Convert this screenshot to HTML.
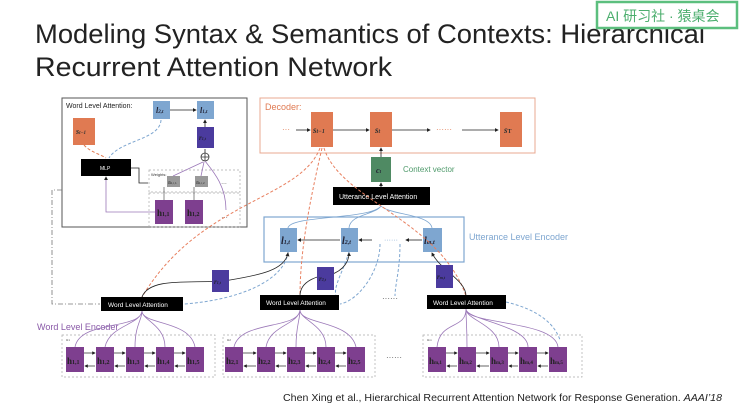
<!DOCTYPE html>
<html><head><meta charset="utf-8"><style>
html,body{margin:0;padding:0;background:#fff;}
svg{display:block;}
text{font-family:"Liberation Sans","Noto Sans CJK SC",sans-serif;}
.m{font-family:"Liberation Serif",serif;font-style:italic;font-weight:bold;}
.b{font-family:"Liberation Serif",serif;font-weight:bold;}
</style></head><body>
<svg width="740" height="405" viewBox="0 0 740 405" xmlns="http://www.w3.org/2000/svg">
<defs>
<marker id="a" markerWidth="5" markerHeight="5" refX="4" refY="2.5" orient="auto"><path d="M0,0L5,2.5L0,5z" fill="#222"/></marker>
</defs>
<!-- title -->
<text x="35" y="43" font-size="27" fill="#222" textLength="670" lengthAdjust="spacingAndGlyphs">Modeling Syntax &amp; Semantics of Contexts: Hierarchical</text>
<text x="35" y="76" font-size="27" fill="#222" textLength="357" lengthAdjust="spacingAndGlyphs">Recurrent Attention Network</text>
<!-- watermark -->
<rect x="597" y="2" width="140" height="26" fill="#fff" stroke="#5cbf7e" stroke-width="2.5"/>
<text x="606" y="21" font-size="14" fill="#4cae6e">AI 研习社 · 猿桌会</text>

<!-- inset -->
<rect x="62" y="98" width="185" height="129" fill="none" stroke="#555" stroke-width="1"/>
<text x="66" y="108" font-size="7" fill="#222">Word Level Attention:</text>
<rect x="153" y="101" width="17" height="18" fill="#7ea6d0"/><text x="156" y="113" font-size="8" class="m" fill="#223">l<tspan font-size="5">2,t</tspan></text>
<rect x="197" y="101" width="17" height="18" fill="#7ea6d0"/><text x="200" y="113" font-size="8" class="m" fill="#223">l<tspan font-size="5">1,t</tspan></text>
<line x1="170" y1="110" x2="196" y2="110" stroke="#222" stroke-width="0.8" marker-end="url(#a)"/>
<rect x="73" y="118" width="22" height="27" fill="#e07a52"/><text x="76" y="134" font-size="8" class="m" fill="#333">s<tspan font-size="5">t−1</tspan></text>
<rect x="197" y="127" width="17" height="21" fill="#4b3b9e"/><text x="199" y="140" font-size="7" class="m" fill="#223">r<tspan font-size="4">1,t</tspan></text>
<line x1="205" y1="127" x2="205" y2="120" stroke="#222" stroke-width="0.8" marker-end="url(#a)"/>
<circle cx="205" cy="157" r="4" fill="none" stroke="#333" stroke-width="0.8"/><path d="M201,157h8M205,153v8" stroke="#333" stroke-width="0.8"/>
<line x1="205" y1="153" x2="205" y2="149" stroke="#222" stroke-width="0.8"/>
<rect x="81" y="159" width="50" height="17" fill="#000"/><text x="100" y="170" font-size="5" fill="#fff">MLP</text>
<path d="M161,120 C160,140 120,140 109,158" stroke="#7ea6d0" stroke-width="1" stroke-dasharray="3,2" fill="none"/>
<path d="M84,145 C90,152 100,154 106,158" stroke="#e07a52" stroke-width="1" stroke-dasharray="3,2" fill="none"/>
<path d="M131,168 h8 v15 h9" stroke="#222" stroke-width="0.8" fill="none"/>
<rect x="149" y="170" width="91" height="22" fill="none" stroke="#aaa" stroke-width="0.7" stroke-dasharray="2,2"/>
<text x="151" y="176" font-size="4" fill="#333">Weights:</text>
<rect x="167" y="176" width="13" height="11" fill="#999"/><text x="168" y="184" font-size="5" fill="#333">a<tspan font-size="3">1,t,1</tspan></text>
<rect x="195" y="176" width="13" height="11" fill="#999"/><text x="196" y="184" font-size="5" fill="#333">a<tspan font-size="3">1,t,2</tspan></text>
<text x="221" y="184" font-size="6" fill="#555">…</text>
<rect x="149" y="193" width="91" height="34" fill="none" stroke="#aaa" stroke-width="0.7" stroke-dasharray="2,2"/>
<rect x="155" y="200" width="18" height="24" fill="#7e3f8f"/><text x="157" y="216" font-size="9" class="b" fill="#222">h<tspan font-size="6">1,1</tspan></text>
<rect x="185" y="200" width="18" height="24" fill="#7e3f8f"/><text x="187" y="216" font-size="9" class="b" fill="#222">h<tspan font-size="6">1,2</tspan></text>
<text x="221" y="218" font-size="7" fill="#555">…</text>
<path d="M173,176 L203,162 M201,176 L204,162 M205,161 C212,170 226,185 226,210" stroke="#9b78b8" stroke-width="0.8" fill="none"/>
<path d="M155,212 H106 V177" stroke="#9b78b8" stroke-width="0.8" fill="none" marker-end="url(#a)"/>
<path d="M164,200 v-13 M194,200 v-13" stroke="#555" stroke-width="0.7"/>

<!-- decoder -->
<rect x="260" y="98" width="275" height="55" fill="none" stroke="#e8a890" stroke-width="1"/>
<text x="265" y="110" font-size="9" fill="#e07a52">Decoder:</text>
<text x="282" y="132" font-size="8" fill="#e07a52">···</text>
<line x1="296" y1="130" x2="310" y2="130" stroke="#222" stroke-width="0.8" marker-end="url(#a)"/>
<rect x="311" y="112" width="22" height="35" fill="#e07a52"/><text x="313" y="133" font-size="9" class="m" fill="#333">s<tspan font-size="6">t−1</tspan></text>
<line x1="333" y1="130" x2="369" y2="130" stroke="#222" stroke-width="0.8" marker-end="url(#a)"/>
<rect x="370" y="112" width="22" height="35" fill="#e07a52"/><text x="375" y="133" font-size="9" class="m" fill="#333">s<tspan font-size="6">t</tspan></text>
<line x1="392" y1="130" x2="430" y2="130" stroke="#222" stroke-width="0.8" marker-end="url(#a)"/>
<text x="436" y="132" font-size="8" fill="#e07a52">······</text>
<line x1="462" y1="130" x2="498" y2="130" stroke="#222" stroke-width="0.8" marker-end="url(#a)"/>
<rect x="500" y="112" width="22" height="35" fill="#e07a52"/><text x="504" y="133" font-size="9" class="m" fill="#333">s<tspan font-size="6" font-style="normal">T</tspan></text>
<rect x="371" y="157" width="20" height="25" fill="#4f8a63"/><text x="376" y="173" font-size="8" class="m" fill="#223">c<tspan font-size="5">t</tspan></text>
<line x1="381" y1="157" x2="381" y2="148" stroke="#222" stroke-width="0.8" marker-end="url(#a)"/>
<text x="403" y="172" font-size="8" fill="#4f9a6b">Context vector</text>
<rect x="333" y="187" width="97" height="18" fill="#000"/><text x="339" y="199" font-size="7" fill="#fff">Utterance  Level Attention</text>
<line x1="381" y1="187" x2="381" y2="183" stroke="#222" stroke-width="0.8" marker-end="url(#a)"/>

<!-- utterance encoder -->
<rect x="264" y="217" width="200" height="45" fill="none" stroke="#7ea6d0" stroke-width="1.2"/>
<text x="469" y="240" font-size="9" fill="#7ea6d0">Utterance Level Encoder</text>
<path d="M288,228 C290,215 370,220 381,206 M349,228 C350,214 375,215 381,206 M432,228 C430,214 390,215 381,206" stroke="#7ea6d0" stroke-width="0.8" fill="none"/>
<rect x="280" y="228" width="17" height="24" fill="#7ea6d0"/><text x="281" y="244" font-size="10" class="m" fill="#223">l<tspan font-size="6">1,t</tspan></text>
<rect x="341" y="228" width="17" height="24" fill="#7ea6d0"/><text x="342" y="244" font-size="10" class="m" fill="#223">l<tspan font-size="6">2,t</tspan></text>
<rect x="423" y="228" width="19" height="24" fill="#7ea6d0"/><text x="424" y="244" font-size="10" class="m" fill="#223">l<tspan font-size="6">m,t</tspan></text>
<line x1="340" y1="240" x2="298" y2="240" stroke="#222" stroke-width="0.8" marker-end="url(#a)"/>
<line x1="372" y1="240" x2="359" y2="240" stroke="#222" stroke-width="0.8" marker-end="url(#a)"/>
<text x="384" y="242" font-size="7" fill="#7ea6d0">······</text>
<line x1="422" y1="240" x2="406" y2="240" stroke="#222" stroke-width="0.8" marker-end="url(#a)"/>

<!-- dashed orange/blue curves -->
<g fill="none" stroke-width="1" stroke-dasharray="3,2">
<path d="M320,148 C300,200 200,200 142,297" stroke="#e88060"/>
<path d="M322,148 C310,200 300,250 300,296" stroke="#e88060"/>
<path d="M324,148 C340,200 440,220 466,296" stroke="#e88060"/>
<path d="M288,252 C285,280 240,300 184,304" stroke="#7ea6d0"/>
<path d="M349,252 C340,280 330,290 339,303" stroke="#7ea6d0"/>
<path d="M380,244 C380,270 360,300 340,304" stroke="#7ea6d0"/>
<path d="M400,244 C400,270 395,285 395,296" stroke="#7ea6d0"/>
<path d="M506,302 C540,310 555,325 560,340" stroke="#7ea6d0"/>
</g>
<path d="M62,190 H52 V304 H100" fill="none" stroke="#777" stroke-width="0.8" stroke-dasharray="5,2,1,2"/>
<!-- r boxes -->
<path d="M142,297 C150,275 200,285 230,280 C260,275 285,270 288,253" stroke="#222" stroke-width="0.8" fill="none" marker-end="url(#a)"/>
<path d="M300,296 C300,280 320,275 330,275 C345,270 349,260 349,253" stroke="#222" stroke-width="0.8" fill="none" marker-end="url(#a)"/>
<path d="M466,296 C466,280 440,270 432,253" stroke="#222" stroke-width="0.8" fill="none" marker-end="url(#a)"/>
<rect x="212" y="270" width="17" height="22" fill="#4b3b9e"/><text x="214" y="284" font-size="7" class="m" fill="#223">r<tspan font-size="4">1,t</tspan></text>
<rect x="317" y="267" width="17" height="23" fill="#4b3b9e"/><text x="319" y="281" font-size="7" class="m" fill="#223">r<tspan font-size="4">2,t</tspan></text>
<rect x="436" y="265" width="17" height="23" fill="#4b3b9e"/><text x="437" y="279" font-size="7" class="m" fill="#223">r<tspan font-size="4">m,t</tspan></text>

<!-- word level attention -->
<rect x="101" y="297" width="82" height="14" fill="#000"/><text x="108" y="307" font-size="6.5" fill="#fff">Word Level Attention</text>
<rect x="260" y="295" width="79" height="15" fill="#000"/><text x="266" y="305" font-size="6.5" fill="#fff">Word Level Attention</text>
<rect x="427" y="295" width="79" height="14" fill="#000"/><text x="433" y="305" font-size="6.5" fill="#fff">Word Level Attention</text>
<text x="382" y="301" font-size="8" fill="#555">······</text>
<text x="37" y="330" font-size="9" fill="#8a5aa8">Word Level Encoder</text>

<!-- encoders -->
<g fill="none" stroke="#aaa" stroke-width="0.7" stroke-dasharray="2,2">
<rect x="62" y="335" width="153" height="42"/><rect x="223" y="335" width="152" height="42"/><rect x="423" y="335" width="159" height="42"/>
</g>
<text x="386" y="360" font-size="8" fill="#555">······</text>
<g fill="none" stroke="#9b78b8" stroke-width="0.8">
<path d="M75,347 C80,320 140,330 142,311 M105,347 C110,325 140,325 142,311 M135,347 C135,325 142,320 142,311 M165,347 C165,325 142,320 142,311 M195,347 C190,320 142,325 142,311"/>
<path d="M234,347 C240,320 298,330 300,310 M266,347 C270,325 298,325 300,310 M296,347 C296,325 300,320 300,310 M326,347 C326,325 300,320 300,310 M356,347 C350,320 300,325 300,310"/>
<path d="M437,347 C440,320 466,330 466,309 M467,347 C467,325 466,320 466,309 M499,347 C499,325 466,320 466,309 M528,347 C528,325 466,320 466,309 M558,347 C555,320 466,325 466,309"/>
</g>
<g fill="#7e3f8f">
<rect x="66" y="347" width="18" height="25"/><rect x="96" y="347" width="18" height="25"/><rect x="126" y="347" width="18" height="25"/><rect x="156" y="347" width="18" height="25"/><rect x="186" y="347" width="18" height="25"/>
<rect x="225" y="347" width="18" height="25"/><rect x="257" y="347" width="18" height="25"/><rect x="287" y="347" width="18" height="25"/><rect x="317" y="347" width="18" height="25"/><rect x="347" y="347" width="18" height="25"/>
<rect x="428" y="347" width="18" height="25"/><rect x="458" y="347" width="18" height="25"/><rect x="490" y="347" width="18" height="25"/><rect x="519" y="347" width="18" height="25"/><rect x="549" y="347" width="18" height="25"/>
</g>
<g font-size="9" class="b" fill="#222">
<text x="67" y="364" class="b">h<tspan font-size="6">1,1</tspan></text><text x="97" y="364" class="b">h<tspan font-size="6">1,2</tspan></text><text x="127" y="364" class="b">h<tspan font-size="6">1,3</tspan></text><text x="157" y="364" class="b">h<tspan font-size="6">1,4</tspan></text><text x="187" y="364" class="b">h<tspan font-size="6">1,5</tspan></text>
<text x="226" y="364" class="b">h<tspan font-size="6">2,1</tspan></text><text x="258" y="364" class="b">h<tspan font-size="6">2,2</tspan></text><text x="288" y="364" class="b">h<tspan font-size="6">2,3</tspan></text><text x="318" y="364" class="b">h<tspan font-size="6">2,4</tspan></text><text x="348" y="364" class="b">h<tspan font-size="6">2,5</tspan></text>
<text x="429" y="364" class="b">h<tspan font-size="5">m,1</tspan></text><text x="459" y="364" class="b">h<tspan font-size="5">m,2</tspan></text><text x="491" y="364" class="b">h<tspan font-size="5">m,3</tspan></text><text x="520" y="364" class="b">h<tspan font-size="5">m,4</tspan></text><text x="550" y="364" class="b">h<tspan font-size="5">m,5</tspan></text>
</g>
<g stroke="#222" stroke-width="0.7" marker-end="url(#a)">
<line x1="84" y1="353" x2="95" y2="353"/><line x1="114" y1="353" x2="125" y2="353"/><line x1="144" y1="353" x2="155" y2="353"/><line x1="174" y1="353" x2="185" y2="353"/>
<line x1="95" y1="366" x2="85" y2="366"/><line x1="125" y1="366" x2="115" y2="366"/><line x1="155" y1="366" x2="145" y2="366"/><line x1="185" y1="366" x2="175" y2="366"/>
<line x1="243" y1="353" x2="256" y2="353"/><line x1="275" y1="353" x2="286" y2="353"/><line x1="305" y1="353" x2="316" y2="353"/><line x1="335" y1="353" x2="346" y2="353"/>
<line x1="256" y1="366" x2="244" y2="366"/><line x1="286" y1="366" x2="276" y2="366"/><line x1="316" y1="366" x2="306" y2="366"/><line x1="346" y1="366" x2="336" y2="366"/>
<line x1="446" y1="353" x2="457" y2="353"/><line x1="476" y1="353" x2="489" y2="353"/><line x1="508" y1="353" x2="518" y2="353"/><line x1="537" y1="353" x2="548" y2="353"/>
<line x1="457" y1="366" x2="447" y2="366"/><line x1="489" y1="366" x2="477" y2="366"/><line x1="518" y1="366" x2="509" y2="366"/><line x1="548" y1="366" x2="538" y2="366"/>
</g>
<text x="66" y="341" font-size="4" fill="#555">u<tspan font-size="3">1</tspan></text>
<text x="227" y="341" font-size="4" fill="#555">u<tspan font-size="3">2</tspan></text>
<text x="427" y="341" font-size="4" fill="#555">u<tspan font-size="3">m</tspan></text>

<text x="283" y="401" font-size="10.5" fill="#222" textLength="439" lengthAdjust="spacingAndGlyphs">Chen Xing et al., Hierarchical Recurrent Attention Network for Response Generation. <tspan font-style="italic">AAAI’18</tspan></text>
</svg>
</body></html>
